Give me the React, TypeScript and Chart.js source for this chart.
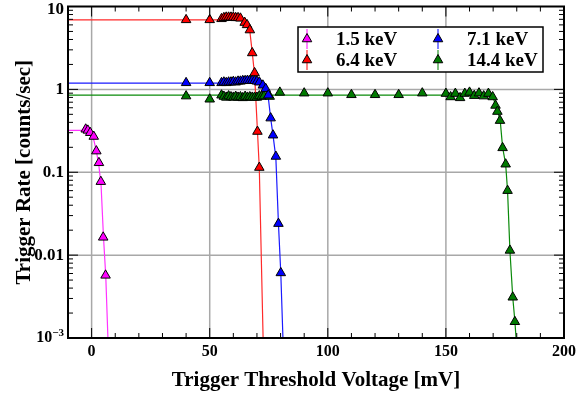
import React, { useEffect, useRef } from 'react';
import { Chart, registerables } from 'chart.js';

Chart.register(...registerables);

// ---- axis ----
const X_MIN = -10;
const X_MAX = 200;
const Y_MIN = 0.001;
const Y_MAX = 10;
const xTickValues = [0, 50, 100, 150, 200];
const xTickLabels = ['0', '50', '100', '150', '200'];
const xGridValues = [0, 50, 100, 150];
const yTickValues = [10, 1, 0.1, 0.01, 0.001];
const yTickLabels = ['10', '1', '0.1', '0.01', '10^-3'];
const yGridValues = [1, 0.1, 0.01];
const xTitle = 'Trigger Threshold Voltage [mV]';
const yTitle = 'Trigger Rate [counts/sec]';

// ---- series ----
const seriesNames = ['1.5 keV', '6.4 keV', '7.1 keV', '14.4 keV'];

const x15 = [-2.5, -1.6, -0.6, 0.9, 2.0, 3.1, 3.9, 4.9, 5.9];
const y15 = [0.33, 0.32, 0.3, 0.27, 0.18, 0.13, 0.077, 0.0164, 0.0057];
const fitX15 = [-10, -2.5, -1, 0, 1, 2, 3, 4, 5, 6, 6.9, 7.3];
const fitY15 = [0.32, 0.32, 0.31, 0.285, 0.24, 0.18, 0.125, 0.07, 0.017, 0.0055, 0.001, 0.0005];

const x64 = [40, 50, 55, 56, 57, 58, 59, 60, 61, 62, 63, 64.8, 65.8, 67, 68, 69, 70.2, 71];
const y64 = [6.9, 6.9, 7.1, 7.3, 7.4, 7.4, 7.4, 7.4, 7.3, 7.3, 7.2, 6.4, 6.0, 5.2, 2.75, 1.58, 0.31, 0.114];
const fitX64 = [-10, 63, 65, 67, 68, 69, 70.2, 71, 72.6, 73];
const fitY64 = [6.9, 6.9, 6.3, 5.0, 2.8, 1.5, 0.32, 0.11, 0.001, 0.0004];

const x71 = [40, 50, 55, 56, 57, 58, 59, 60, 61, 62, 63, 64, 65, 66, 67, 68, 69, 70, 71, 72.5, 73.7, 74.8, 75.8, 76.8, 78, 79.1, 80.1];
const y71 = [1.2, 1.2, 1.2, 1.22, 1.2, 1.22, 1.22, 1.24, 1.22, 1.25, 1.25, 1.27, 1.27, 1.28, 1.27, 1.28, 1.27, 1.25, 1.22, 1.12, 1.02, 0.85, 0.45, 0.28, 0.155, 0.024, 0.0061];
const fitX71 = [-10, 70, 72.5, 73.7, 74.8, 75.8, 76.8, 78, 79.1, 80.1, 81, 81.4];
const fitY71 = [1.19, 1.19, 1.12, 1.0, 0.8, 0.45, 0.28, 0.15, 0.024, 0.006, 0.001, 0.0005];

const x144 = [40, 50, 55, 56, 57, 58, 59, 60, 61, 62, 63, 64, 65, 66, 67, 68, 69, 70, 71, 72, 73, 75.4, 79.7, 90, 100, 110, 120, 130, 140, 150, 152, 154, 156, 158, 160, 162, 164, 166, 168, 169.8, 171, 171.8, 172.9, 174, 175.3, 176.1, 177.1, 178.3, 179.2];
const y144 = [0.83, 0.76, 0.85, 0.82, 0.8, 0.83, 0.81, 0.8, 0.82, 0.8, 0.81, 0.79, 0.82, 0.8, 0.81, 0.8, 0.8, 0.8, 0.83, 0.82, 0.83, 0.82, 0.92, 0.9, 0.9, 0.86, 0.86, 0.86, 0.9, 0.89, 0.81, 0.89, 0.79, 0.89, 0.92, 0.84, 0.9, 0.83, 0.89, 0.81, 0.64, 0.54, 0.42, 0.197, 0.125, 0.06, 0.0114, 0.0031, 0.00157];
const fitX144 = [-10, 168, 170, 171, 172, 173, 174, 175.3, 176.1, 177.1, 178.3, 179.2, 179.7, 180];
const fitY144 = [0.85, 0.85, 0.8, 0.64, 0.53, 0.42, 0.2, 0.125, 0.06, 0.0114, 0.0031, 0.0016, 0.001, 0.0007];

const markerColors = ['#ff00ff', '#ff0000', '#0000ff', '#007a00'];
const lineColors = ['#ff33ff', '#ff2a2a', '#1a1aff', '#0a8a0a'];
const legendBarColors = ['#ff80ff', '#ff8080', '#8080ff', '#80c080'];

const FONT = "'Liberation Serif', 'DejaVu Serif', serif";

const toPts = (xs: number[], ys: number[]) => xs.map((x, i) => ({ x, y: ys[i] }));

function drawTri(ctx: CanvasRenderingContext2D, x: number, y: number, r: number, fill: string) {
  ctx.beginPath();
  ctx.moveTo(x, y - r);
  ctx.lineTo(x + r * 0.866, y + r * 0.5);
  ctx.lineTo(x - r * 0.866, y + r * 0.5);
  ctx.closePath();
  ctx.fillStyle = fill;
  ctx.fill();
  ctx.strokeStyle = '#000';
  ctx.lineWidth = 1;
  ctx.stroke();
}

const framePlugin = {
  id: 'framePlugin',
  beforeDatasetsDraw(chart: any) {
    const { ctx, chartArea: a, scales } = chart;
    const x = scales.x;
    const y = scales.y;
    ctx.save();
    ctx.strokeStyle = '#a8a8a8';
    ctx.lineWidth = 1.5;
    for (const v of xGridValues) {
      const px = x.getPixelForValue(v);
      ctx.beginPath();
      ctx.moveTo(px, a.top);
      ctx.lineTo(px, a.bottom);
      ctx.stroke();
    }
    for (const v of yGridValues) {
      const py = y.getPixelForValue(v);
      ctx.beginPath();
      ctx.moveTo(a.left, py);
      ctx.lineTo(a.right, py);
      ctx.stroke();
    }
    ctx.restore();
  },
  afterDraw(chart: any) {
    const { ctx, chartArea: a, scales } = chart;
    const x = scales.x;
    const y = scales.y;
    ctx.save();
    // ticks
    ctx.strokeStyle = '#000';
    ctx.lineWidth = 1;
    for (let v = -10; v <= 200; v += 10) {
      const px = x.getPixelForValue(v);
      const len = v % 50 === 0 ? 10 : 5;
      ctx.beginPath();
      ctx.moveTo(px, a.bottom);
      ctx.lineTo(px, a.bottom - len);
      ctx.moveTo(px, a.top);
      ctx.lineTo(px, a.top + len);
      ctx.stroke();
    }
    for (let d = -3; d <= 0; d++) {
      for (let k = 1; k <= 9; k++) {
        const v = k * Math.pow(10, d);
        const py = y.getPixelForValue(v);
        const len = k === 1 ? 10 : 5;
        ctx.beginPath();
        ctx.moveTo(a.left, py);
        ctx.lineTo(a.left + len, py);
        ctx.moveTo(a.right, py);
        ctx.lineTo(a.right - len, py);
        ctx.stroke();
      }
    }
    // frame
    ctx.lineWidth = 2;
    ctx.strokeRect(a.left, a.top, a.right - a.left, a.bottom - a.top);

    // x tick labels
    ctx.fillStyle = '#000';
    ctx.font = `bold 16px ${FONT}`;
    ctx.textAlign = 'center';
    ctx.textBaseline = 'middle';
    xTickValues.forEach((v, i) => {
      ctx.fillText(xTickLabels[i], x.getPixelForValue(v), a.bottom + 14);
    });
    // y tick labels
    ctx.textAlign = 'right';
    yTickValues.forEach((v, i) => {
      let py = y.getPixelForValue(v);
      if (py < 10) py = 10;
      const lab = yTickLabels[i];
      const rx = a.left - 4;
      if (lab.includes('^')) {
        const [base, exp] = lab.split('^');
        ctx.font = `bold 11px ${FONT}`;
        const ew = ctx.measureText(exp.replace('-', '\u2212')).width;
        ctx.fillText(exp.replace('-', '\u2212'), rx, py - 5);
        ctx.font = `bold 16px ${FONT}`;
        ctx.fillText(base, rx - ew, py);
      } else {
        ctx.font = `bold 17px ${FONT}`;
        ctx.fillText(lab, rx, py);
      }
    });
    // titles
    ctx.font = `bold 21px ${FONT}`;
    ctx.textAlign = 'center';
    ctx.textBaseline = 'alphabetic';
    ctx.fillText(xTitle, (a.left + a.right) / 2, 386);
    ctx.save();
    ctx.translate(30, (a.top + a.bottom) / 2);
    ctx.rotate(-Math.PI / 2);
    ctx.fillText(yTitle, 0, 0);
    ctx.restore();

    // legend
    const lx = 298, ly = 27, lw = 245, lh = 45;
    ctx.fillStyle = '#fff';
    ctx.fillRect(lx, ly, lw, lh);
    ctx.strokeStyle = '#000';
    ctx.lineWidth = 1.5;
    ctx.strokeRect(lx, ly, lw, lh);
    const pos = [
      { sx: 307, tx: 336, ty: 39 },
      { sx: 307, tx: 336, ty: 60 },
      { sx: 438, tx: 467, ty: 39 },
      { sx: 438, tx: 467, ty: 60 },
    ];
    seriesNames.forEach((name, i) => {
      const p = pos[i];
      ctx.strokeStyle = legendBarColors[i];
      ctx.lineWidth = 2;
      ctx.beginPath();
      ctx.moveTo(p.sx, p.ty - 10);
      ctx.lineTo(p.sx, p.ty + 10);
      ctx.stroke();
      drawTri(ctx, p.sx, p.ty, 5.5, markerColors[i]);
      ctx.fillStyle = '#000';
      ctx.font = `bold 19px ${FONT}`;
      ctx.textAlign = 'left';
      ctx.textBaseline = 'middle';
      ctx.fillText(name, p.tx, p.ty + 1);
    });
    ctx.restore();
  },
};

export default function App() {
  const ref = useRef<HTMLCanvasElement | null>(null);
  useEffect(() => {
    if (!ref.current) return;
    const pointSets = [
      toPts(x15, y15),
      toPts(x64, y64),
      toPts(x71, y71),
      toPts(x144, y144),
    ];
    const fitSets = [
      toPts(fitX15, fitY15),
      toPts(fitX64, fitY64),
      toPts(fitX71, fitY71),
      toPts(fitX144, fitY144),
    ];
    const datasets: any[] = [];
    pointSets.forEach((d, i) => {
      datasets.push({
        label: seriesNames[i],
        data: d,
        showLine: false,
        pointStyle: 'triangle',
        pointRadius: 5.5,
        backgroundColor: markerColors[i],
        borderColor: '#000',
        borderWidth: 1,
        order: 0,
      });
    });
    fitSets.forEach((d, i) => {
      datasets.push({
        label: seriesNames[i] + ' fit',
        data: d,
        showLine: true,
        pointRadius: 0,
        borderColor: lineColors[i],
        borderWidth: 1.2,
        fill: false,
        tension: 0,
        order: 1,
      });
    });
    const chart = new Chart(ref.current, {
      type: 'scatter',
      data: { datasets },
      options: {
        animation: false,
        responsive: false,
        devicePixelRatio: 1,
        events: [],
        layout: { padding: { top: 5, right: 16, left: 0, bottom: 0 } },
        plugins: {
          legend: { display: false },
          tooltip: { enabled: false },
          title: { display: false },
        },
        scales: {
          x: {
            type: 'linear',
            min: X_MIN,
            max: X_MAX,
            ticks: { display: false },
            grid: { display: false },
            border: { display: false },
            afterFit: (s: any) => { s.height = 56; },
          },
          y: {
            type: 'logarithmic',
            min: Y_MIN,
            max: Y_MAX,
            ticks: { display: false },
            grid: { display: false },
            border: { display: false },
            afterFit: (s: any) => { s.width = 68; },
          },
        },
      },
      plugins: [framePlugin],
    } as any);
    return () => chart.destroy();
  }, []);
  return (
    <div style={{ position: 'fixed', left: 0, top: 0, width: 580, height: 394, background: '#fff' }}>
      <canvas ref={ref} width={580} height={394} style={{ width: 580, height: 394, display: 'block' }} />
    </div>
  );
}
